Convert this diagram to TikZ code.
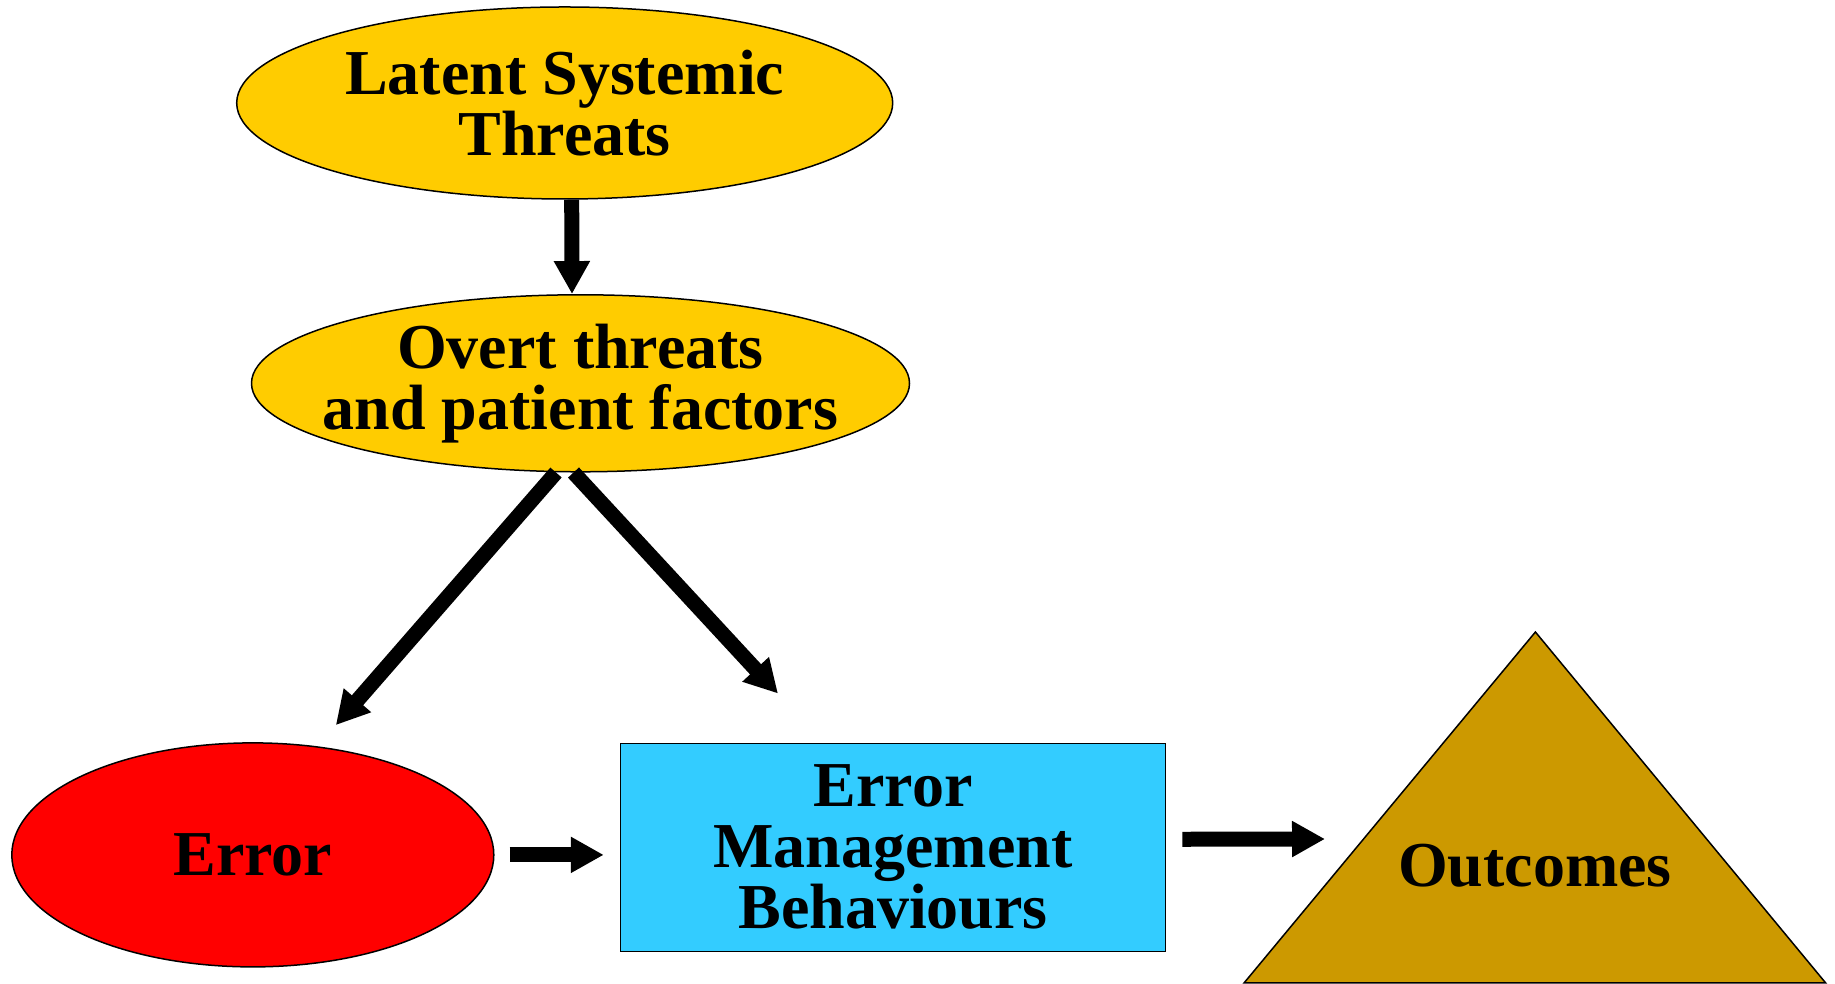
\documentclass[tikz,border=0pt]{standalone}
\usepackage{fontspec}
\setmainfont{Liberation Serif}
\usetikzlibrary{shapes.geometric,arrows.meta}

\definecolor{threatcol}{HTML}{FFCC00}
\definecolor{errcol}{HTML}{FF0000}
\definecolor{emcol}{HTML}{33CCFF}
\definecolor{outcol}{HTML}{CC9900}

\begin{document}
\begin{tikzpicture}[x=1pt, y=1pt]
\tikzset{
    bigtext/.style= {font=\fontsize{64}{61}\selectfont\bfseries, align=center},
    threat/.style= {bigtext, ellipse, draw=black, fill=threatcol, line width=1.5pt, inner xsep=-40pt, inner ysep=-5pt},
    errnode/.style= {bigtext, ellipse, draw=black, fill=errcol, line width=1.5pt, inner sep=0pt},
    embox/.style= {bigtext, rectangle, draw=black, fill=emcol, line width=1.5pt, inner sep=0pt},
    bigarrow/.style= {-{Triangle[length=33pt,width=34pt]}, line width=15pt, draw=black},
}
\useasboundingbox (0,0) rectangle (1835,984);

\node[threat, minimum width=656pt, minimum height=192pt] (lst) at (564.7,881) {Latent Systemic\\Threats};
\node[threat, minimum width=658pt, minimum height=177pt] (overt) at (580.5,600.7) {Overt threats\\and patient factors};
\node[errnode, minimum width=482pt, minimum height=224pt] (err) at (252.8,129.1) {Error};
\node[embox, minimum width=545pt, minimum height=208pt] (emb) at (893,136.7) {Error\\Management\\Behaviours};

% outcomes triangle
\path[draw=black, fill=outcol, line width=1.5pt] (1244,1) -- (1535.4,352) -- (1825.7,1) -- cycle;
\node[bigtext, inner sep=0pt] (outc) at (1535,118.5) {Outcomes};
\coordinate (outin) at (1325,145);

\draw[bigarrow] ([xshift=7pt]lst.south) -- ([xshift=-8.5pt]overt.north);
\draw[bigarrow] ([xshift=-24.5pt]overt.south) -- ([shift={(83pt,17pt)}]err.north);
\draw[bigarrow] ([xshift=-7pt]overt.south) -- ([shift={(-115pt,49pt)}]emb.north);
\draw[bigarrow, shorten <=15pt, shorten >=16pt] (err.east) -- (emb.west |- err.east);
\draw[bigarrow, shorten <=16pt] ([yshift=8pt]emb.east) -- (outin);
\end{tikzpicture}
\end{document}
